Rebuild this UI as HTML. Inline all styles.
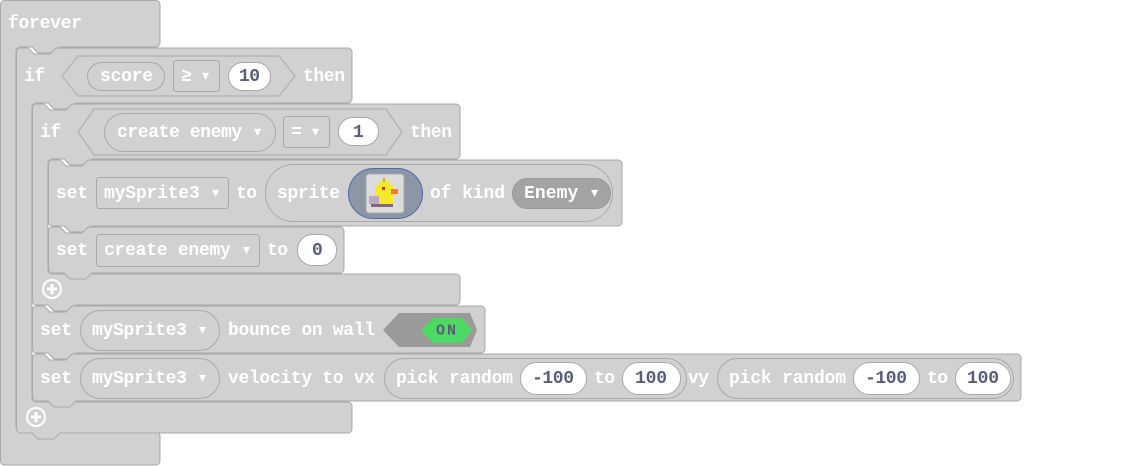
<!DOCTYPE html>
<html><head><meta charset="utf-8"><style>
html,body{margin:0;padding:0;background:#fff;width:1125px;height:466px;overflow:hidden}
text{font-family:"Liberation Mono","DejaVu Sans Mono",monospace;font-weight:bold;font-size:18px;fill:#fff;dominant-baseline:central;transform:translateY(1px)}
.d{fill:#575e75}
.b{fill:#d1d1d1;stroke:#a9a9a9;stroke-width:1}
.w{fill:#fff;stroke:#a9a9a9;stroke-width:1}
</style></head><body>
<svg width="1125" height="466" viewBox="0 0 1125 466" xmlns="http://www.w3.org/2000/svg">
<path class="b" d="M0.5,4 a4,4 0 0 1 4,-3.5 H156 a4,4 0 0 1 4,4 V43 a4,4 0 0 1 -4,4 H60 l-6,6 H38 l-6,-6 H20 a4,4 0 0 0 -4,4 V428 a4,4 0 0 0 4,4 H156 a4,4 0 0 1 4,4 V461 a4,4 0 0 1 -4,4 H4.5 a4,4 0 0 1 -4,-4 Z"/>
<text x="8" y="23" textLength="74">forever</text>
<path class="b" d="M16.5,52 a4,4 0 0 1 4,-4 H28 l6,6 H50 l6,-6 H348 a4,4 0 0 1 4,4 V99 a4,4 0 0 1 -4,4 H76 l-6,6 H54 l-6,-6 H36 a4,4 0 0 0 -4,4 V398 a4,4 0 0 0 4,4 H348 a4,4 0 0 1 4,4 V429 a4,4 0 0 1 -4,4 H60 l-6,6 H38 l-6,-6 H20.5 a4,4 0 0 1 -4,-4 Z"/>
<text x="24" y="76" textLength="21">if</text>
<polygon class="b" points="62,76 78,56 279,56 295,76 279,96 78,96"/>
<rect class="b" x="87.5" y="62.5" width="77" height="28" rx="14"/>
<text x="100" y="76" textLength="53">score</text>
<rect class="b" x="173.5" y="60.5" width="46" height="31" rx="3"/>
<text x="181" y="76" textLength="30">≥ ▾</text>
<rect class="w" x="228.5" y="62.5" width="42" height="28" rx="14"/>
<text class="d" x="239" y="76" textLength="21">10</text>
<text x="303" y="76" textLength="42">then</text>
<path class="b" d="M32.5,108 a4,4 0 0 1 4,-4 H44 l6,6 H66 l6,-6 H456 a4,4 0 0 1 4,4 V155 a4,4 0 0 1 -4,4 H92 l-6,6 H70 l-6,-6 H52 a4,4 0 0 0 -4,4 V270 a4,4 0 0 0 4,4 H456 a4,4 0 0 1 4,4 V301 a4,4 0 0 1 -4,4 H76 l-6,6 H54 l-6,-6 H36.5 a4,4 0 0 1 -4,-4 Z"/>
<text x="40" y="132" textLength="21">if</text>
<polygon class="b" points="78,132 94,109 386,109 402,132 386,155 94,155"/>
<rect class="b" x="104.5" y="113.5" width="171" height="38" rx="19"/>
<text x="117" y="132" textLength="146">create enemy ▾</text>
<rect class="b" x="283.5" y="116.5" width="46" height="31" rx="3"/>
<text x="291" y="132" textLength="30">= ▾</text>
<rect class="w" x="338.5" y="117.5" width="40" height="28" rx="14"/>
<text class="d" x="353" y="132" textLength="10">1</text>
<text x="410" y="132" textLength="42">then</text>
<path class="b" d="M48.5,164 a4,4 0 0 1 4,-4 H60 l6,6 H82 l6,-6 H618 a4,4 0 0 1 4,4 V222 a4,4 0 0 1 -4,4 H92 l-6,6 H70 l-6,-6 H52.5 a4,4 0 0 1 -4,-4 Z"/>
<text x="56" y="193" textLength="32">set</text>
<rect class="b" x="96.5" y="177.5" width="132" height="31" rx="3"/>
<text x="104" y="193" textLength="117">mySprite3 ▾</text>
<text x="236" y="193" textLength="21">to</text>
<rect class="b" x="265.5" y="164.5" width="347" height="57" rx="28"/>
<text x="277" y="193" textLength="63">sprite</text>
<rect x="348.5" y="168.5" width="74" height="50" rx="25" fill="#8c96a6" stroke="#4a6aa8"/>
<rect x="366" y="174" width="38" height="39" rx="3" fill="#dcdcdc" stroke="#a9a9a9"/>
<g>
<rect x="375" y="185" width="18" height="20" fill="#f2ea2a"/>
<rect x="380" y="181" width="10" height="5" fill="#f2ea2a"/>
<rect x="383" y="178" width="2" height="4" fill="#c8b040"/>
<rect x="382" y="187" width="3" height="3" fill="#e03020"/>
<rect x="391" y="189" width="7" height="5" fill="#f08020"/>
<rect x="369" y="196" width="10" height="8" fill="#b8a8c0"/>
<rect x="371" y="204" width="22" height="3" fill="#806880"/>
</g>
<text x="430" y="193" textLength="75">of kind</text>
<rect x="512.5" y="178.5" width="98" height="30" rx="15" fill="#a3a3a3" stroke="#999"/>
<text x="524" y="193" textLength="76">Enemy ▾</text>
<path class="b" d="M48.5,231 a4,4 0 0 1 4,-4 H60 l6,6 H82 l6,-6 H340 a4,4 0 0 1 4,4 V269 a4,4 0 0 1 -4,4 H92 l-6,6 H70 l-6,-6 H52.5 a4,4 0 0 1 -4,-4 Z"/>
<text x="56" y="250" textLength="32">set</text>
<rect class="b" x="96.5" y="234.5" width="163" height="32" rx="3"/>
<text x="104" y="250" textLength="148">create enemy ▾</text>
<text x="267" y="250" textLength="21">to</text>
<rect class="w" x="297.5" y="234.5" width="39" height="31" rx="15"/>
<text class="d" x="312" y="250" textLength="10">0</text>
<circle cx="52" cy="289" r="9" fill="none" stroke="#fff" stroke-width="2"/>
<path d="M47,289 H57 M52,284 V294" stroke="#fff" stroke-width="3"/>
<path class="b" d="M32.5,310 a4,4 0 0 1 4,-4 H44 l6,6 H66 l6,-6 H481 a4,4 0 0 1 4,4 V349 a4,4 0 0 1 -4,4 H76 l-6,6 H54 l-6,-6 H36.5 a4,4 0 0 1 -4,-4 Z"/>
<text x="40" y="330" textLength="32">set</text>
<rect class="b" x="80.5" y="310.5" width="139" height="40" rx="20"/>
<text x="92" y="330" textLength="116">mySprite3 ▾</text>
<text x="228" y="330" textLength="147">bounce on wall</text>
<polygon points="383,330 399,313 470,313 477,330 470,347 399,347" fill="#9a9a9a"/>
<polygon points="421,330 433,318 462,318 472,330 462,343 433,343" fill="#4cd964"/>
<text class="d" x="436" y="330" textLength="20" style="font-size:15px">ON</text>
<path class="b" d="M32.5,358 a4,4 0 0 1 4,-4 H44 l6,6 H66 l6,-6 H1017 a4,4 0 0 1 4,4 V397 a4,4 0 0 1 -4,4 H76 l-6,6 H54 l-6,-6 H36.5 a4,4 0 0 1 -4,-4 Z"/>
<text x="40" y="378" textLength="32">set</text>
<rect class="b" x="80.5" y="358.5" width="139" height="40" rx="20"/>
<text x="92" y="378" textLength="116">mySprite3 ▾</text>
<text x="228" y="378" textLength="147">velocity to vx</text>
<rect class="b" x="384.5" y="358.5" width="302" height="40" rx="20"/>
<text x="396" y="378" textLength="117">pick random</text>
<rect class="w" x="520.5" y="362.5" width="66" height="32" rx="16"/>
<text class="d" x="532" y="378" textLength="42">-100</text>
<text x="594" y="378" textLength="21">to</text>
<rect class="w" x="622.5" y="362.5" width="58" height="32" rx="16"/>
<text class="d" x="635" y="378" textLength="32">100</text>
<text x="688" y="378" textLength="21">vy</text>
<rect class="b" x="717.5" y="358.5" width="296" height="40" rx="20"/>
<text x="729" y="378" textLength="117">pick random</text>
<rect class="w" x="853.5" y="362.5" width="66" height="32" rx="16"/>
<text class="d" x="865" y="378" textLength="42">-100</text>
<text x="927" y="378" textLength="21">to</text>
<rect class="w" x="955.5" y="362.5" width="55" height="32" rx="16"/>
<text class="d" x="967" y="378" textLength="32">100</text>
<circle cx="36" cy="417" r="9" fill="none" stroke="#fff" stroke-width="2"/>
<path d="M31,417 H41 M36,412 V422" stroke="#fff" stroke-width="3"/>
</svg>
</body></html>
